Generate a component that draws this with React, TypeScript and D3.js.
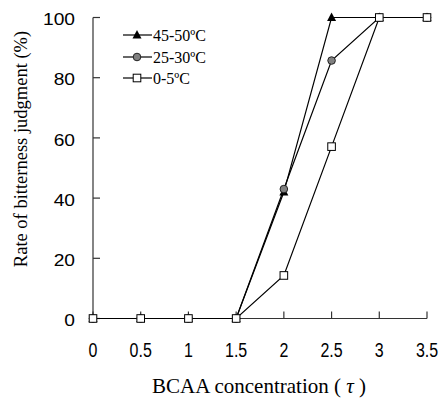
import React from 'react';
import * as d3 from 'd3';

const concentrations = [0, 0.5, 1, 1.5, 2, 2.5, 3, 3.5];
const hot = [0, 0, 0, 0, 42, 100, 100, 100];      // 45-50ºC
const warm = [0, 0, 0, 0, 43, 85.7, 100, 100];    // 25-30ºC
const cold = [0, 0, 0, 0, 14.3, 57.1, 100, 100];  // 0-5ºC
const xTicks = [0, 0.5, 1, 1.5, 2, 2.5, 3, 3.5];
const yTicks = [0, 20, 40, 60, 80, 100];
const seriesNames = ['45-50ºC', '25-30ºC', '0-5ºC'];

const W = 441;
const H = 398;

const App: React.FC = () => {
  const x = d3.scaleLinear().domain([0, 3.5]).range([93, 427]);
  const y = d3.scaleLinear().domain([0, 100]).range([318.5, 17.5]);

  const line = d3.line<number>()
    .x((_d, i) => x(concentrations[i]))
    .y(d => y(d));

  const axisColor = '#333';
  const tickFont = '"Liberation Sans", Arial, sans-serif';
  const serif = '"Times New Roman", "Liberation Serif", serif';

  const triangle = (cx: number, cy: number, key: string | number) => (
    <path key={key} d={`M${cx},${cy - 5} L${cx + 4.5},${cy + 3.5} L${cx - 4.5},${cy + 3.5} Z`} fill="#000" />
  );
  const circle = (cx: number, cy: number, key: string | number) => (
    <circle key={key} cx={cx} cy={cy} r={3.8} fill="#808080" stroke="#222" strokeWidth={1} />
  );
  const square = (cx: number, cy: number, key: string | number) => (
    <rect key={key} x={cx - 3.8} y={cy - 3.8} width={7.6} height={7.6} fill="#fff" stroke="#000" strokeWidth={1} />
  );

  const markers = [triangle, circle, square];
  const series = [hot, warm, cold];

  return (
    <svg width={W} height={H} style={{ position: 'absolute', left: 0, top: 0, background: '#fff' }}>
      {/* axes */}
      <line x1={x(0)} x2={x(0)} y1={y(100)} y2={y(0)} stroke={axisColor} strokeWidth={1.2} />
      <line x1={x(0)} x2={x(3.5)} y1={y(0)} y2={y(0)} stroke={axisColor} strokeWidth={1.2} />
      {yTicks.map(t => (
        <g key={`yt${t}`}>
          <line x1={x(0)} x2={x(0) + 7} y1={y(t)} y2={y(t)} stroke={axisColor} strokeWidth={1.2} />
          <text
            transform={`translate(75,${y(t) + 3.5}) scale(1.2,1)`}
            textAnchor="end"
            dominantBaseline="middle"
            fontFamily={tickFont}
            fontSize={16}
            fill="#000"
          >{t}</text>
        </g>
      ))}
      {xTicks.map(t => (
        <g key={`xt${t}`}>
          <line x1={x(t)} x2={x(t)} y1={y(0)} y2={y(0) - 7} stroke={axisColor} strokeWidth={1.2} />
          <text
            transform={`translate(${x(t)},357) scale(1,1.22)`}
            textAnchor="middle"
            fontFamily={tickFont}
            fontSize={16}
            fill="#000"
          >{t}</text>
        </g>
      ))}

      {/* axis titles */}
      <text
        transform="translate(27,149) rotate(-90)"
        textAnchor="middle"
        fontFamily={serif}
        fontSize={18.5}
        fill="#000"
      >Rate of bitterness judgment (%)</text>
      <text x={259} y={393} textAnchor="middle" fontFamily={serif} fontSize={21} fill="#000">
        BCAA concentration ( <tspan fontStyle="italic">τ</tspan> )
      </text>

      {/* lines */}
      {series.map((s, i) => (
        <path key={`l${i}`} d={line(s) || ''} fill="none" stroke="#000" strokeWidth={1.2} />
      ))}
      {/* markers */}
      {series.map((s, i) => (
        <g key={`m${i}`}>
          {s.map((v, j) => markers[i](x(concentrations[j]), y(v), j))}
        </g>
      ))}

      {/* legend */}
      {seriesNames.map((name, i) => {
        const ly = [35, 57, 78][i];
        return (
          <g key={`lg${i}`}>
            <line x1={123} x2={152} y1={ly} y2={ly} stroke="#000" strokeWidth={1.2} />
            {markers[i](137, ly, 'm')}
            <text x={153} y={ly + 5.5} fontFamily={serif} fontSize={16} fill="#000">{name}</text>
          </g>
        );
      })}
    </svg>
  );
};

export default App;
